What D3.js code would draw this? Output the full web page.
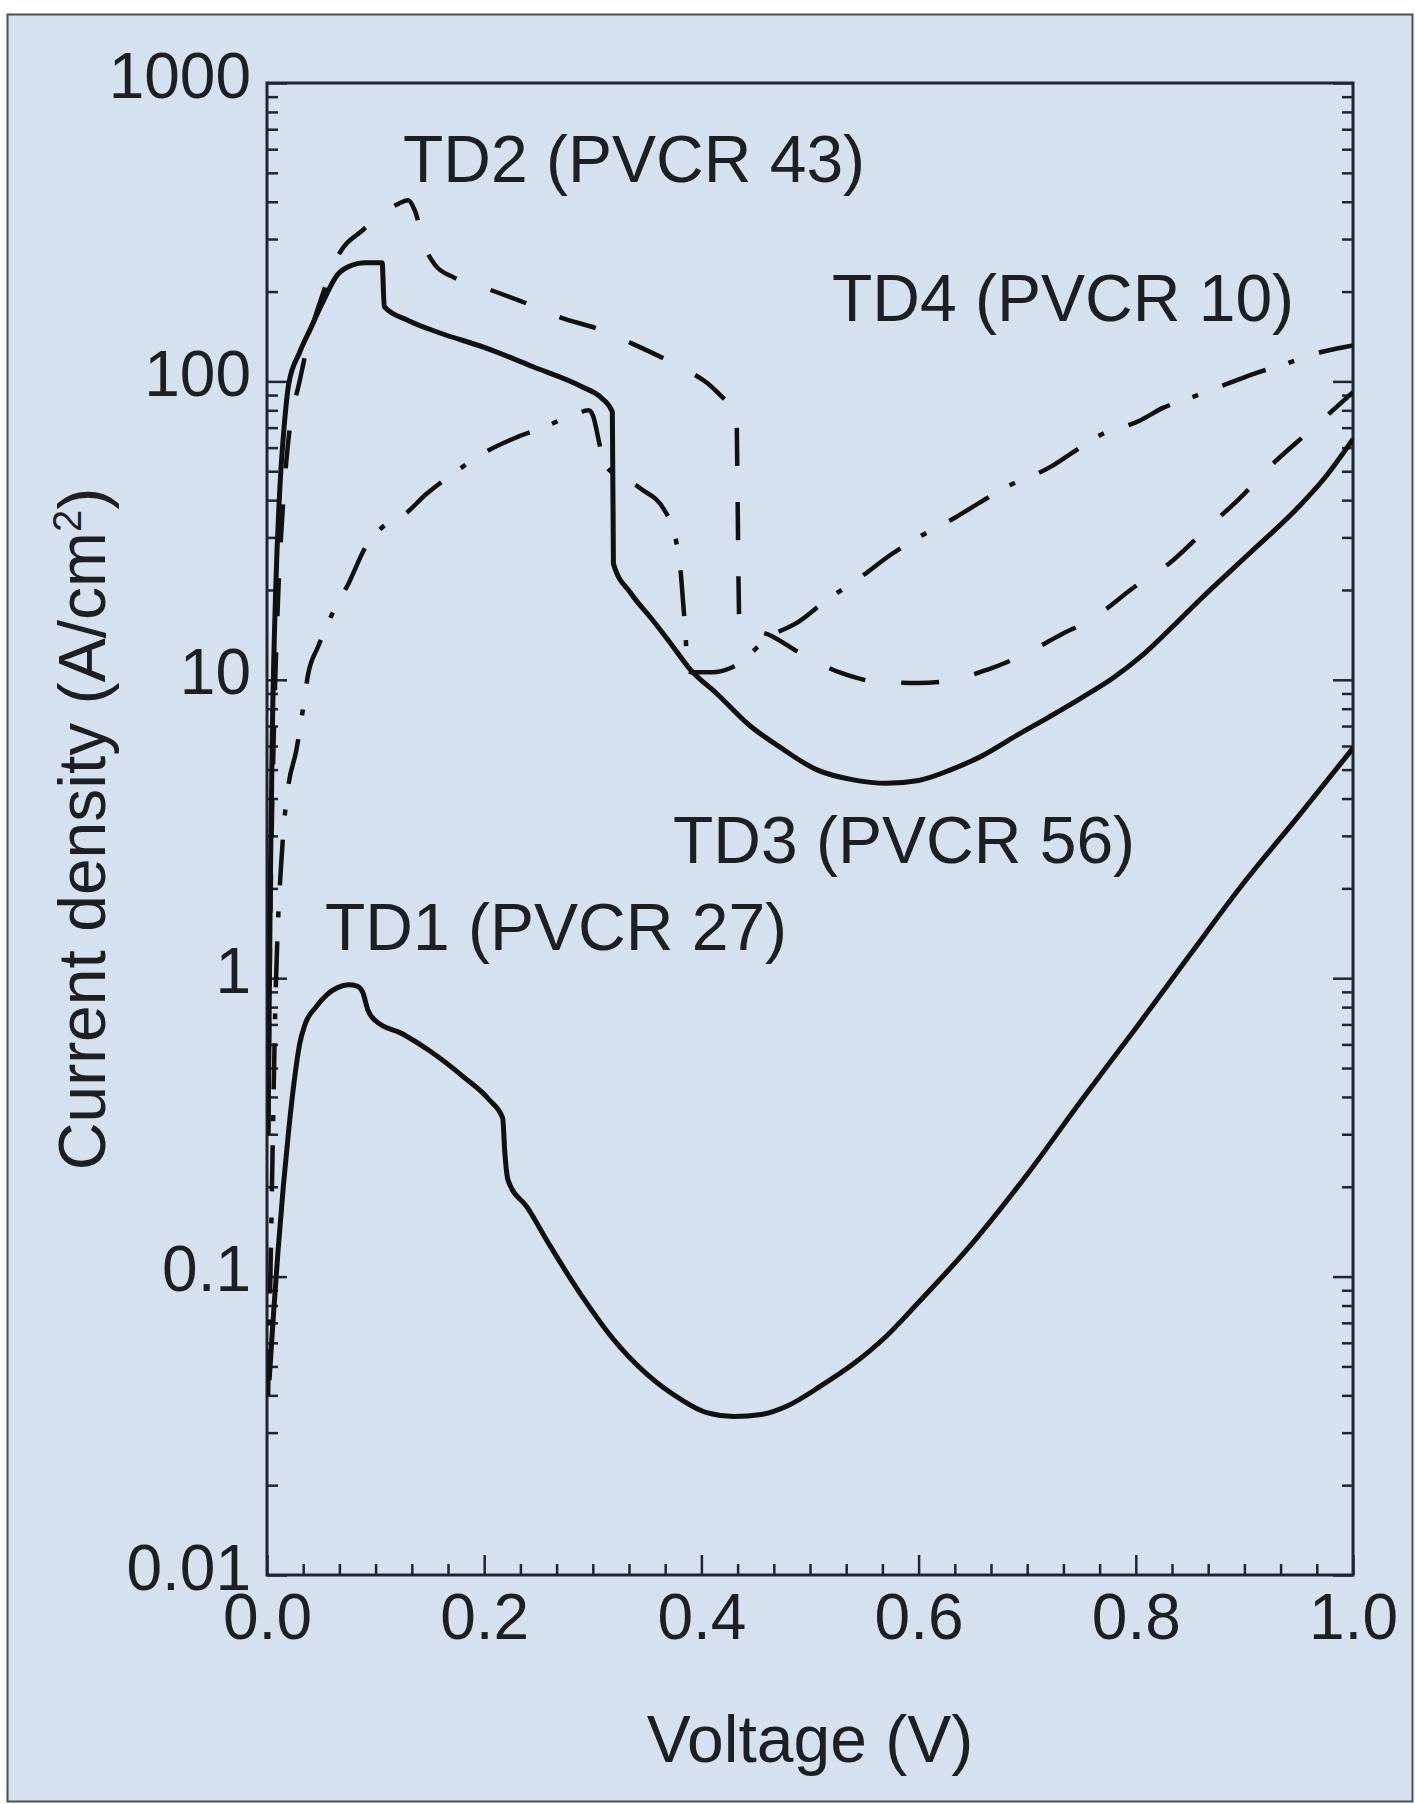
<!DOCTYPE html>
<html>
<head>
<meta charset="utf-8">
<script src="https://cdn.jsdelivr.net/npm/d3@7"></script>
<style>
  body { margin: 0; background: #fff; }
  text { font-family: "Liberation Sans", Arial, Helvetica, sans-serif; fill: #1d1f23; }
</style>
</head>
<body>
<svg id="chart" width="1415" height="1804"></svg>
<script>
// current density vs voltage for four tunnel diodes (log scale)
// values: [voltage V, current density A/cm2]

const td1 = [
  [0.002, 0.045], [0.006, 0.075], [0.01, 0.12], [0.015, 0.2], [0.02, 0.31], [0.025, 0.45],
  [0.03, 0.6], [0.035, 0.7], [0.045, 0.8], [0.055, 0.88], [0.065, 0.93], [0.075, 0.95],
  [0.083, 0.94], [0.088, 0.9], [0.093, 0.78], [0.1, 0.72], [0.125, 0.65], [0.15, 0.57],
  [0.18, 0.47], [0.205, 0.39], [0.217, 0.34], [0.219, 0.26], [0.222, 0.21], [0.24, 0.17],
  [0.26, 0.128], [0.29, 0.086], [0.32, 0.061], [0.35, 0.047], [0.38, 0.039], [0.405, 0.035],
  [0.43, 0.034], [0.455, 0.0345], [0.48, 0.037], [0.51, 0.043], [0.54, 0.051], [0.57, 0.063],
  [0.6, 0.082], [0.65, 0.13], [0.7, 0.22], [0.75, 0.39], [0.8, 0.68], [0.85, 1.2],
  [0.9, 2.1], [0.95, 3.5], [1.0, 5.9]
];

const td2 = [
  [0.001, 0.3], [0.003, 1.5], [0.006, 6], [0.01, 18], [0.015, 40], [0.02, 65], [0.03, 100],
  [0.04, 145], [0.05, 190], [0.065, 262], [0.088, 321], [0.105, 360], [0.12, 392], [0.13, 405],
  [0.136, 375], [0.145, 285], [0.155, 245], [0.171, 224], [0.2, 206], [0.24, 182], [0.27, 164],
  [0.307, 149], [0.334, 135], [0.374, 115], [0.405, 99], [0.428, 84], [0.432, 83], [0.435, 15.5],
  [0.465, 14.0], [0.494, 12.1], [0.53, 10.5], [0.562, 9.85], [0.6, 9.75], [0.626, 9.9],
  [0.663, 10.8], [0.696, 12.1], [0.73, 14.1], [0.762, 16.2], [0.799, 20.5], [0.831, 24.6],
  [0.866, 32.3], [0.894, 40], [0.928, 53.7], [0.959, 67.6], [1.0, 92]
];

const td3 = [
  [0.001, 0.3], [0.003, 2], [0.005, 7], [0.008, 20], [0.012, 45], [0.016, 72], [0.02, 98],
  [0.03, 125], [0.04, 150], [0.05, 180], [0.065, 228], [0.078, 245], [0.09, 250], [0.106, 250],
  [0.108, 178], [0.13, 160], [0.16, 145], [0.2, 130], [0.245, 112], [0.29, 96], [0.308, 88],
  [0.318, 79], [0.319, 24.5], [0.335, 19.5], [0.353, 16.2], [0.37, 13.5], [0.39, 10.8],
  [0.414, 9.0], [0.445, 7.0], [0.472, 5.96], [0.506, 5.0], [0.54, 4.62], [0.57, 4.5], [0.6, 4.6],
  [0.63, 5.0], [0.66, 5.6], [0.69, 6.5], [0.72, 7.5], [0.75, 8.7], [0.78, 10.2], [0.805, 12],
  [0.83, 14.6], [0.86, 18.7], [0.905, 26.6], [0.95, 38], [0.975, 48], [1.0, 64]
];

const td4 = [
  [0.001, 0.04], [0.004, 0.15], [0.006, 0.4], [0.008, 0.9], [0.01, 1.5], [0.013, 2.4],
  [0.016, 3.4], [0.02, 4.5], [0.027, 5.8], [0.032, 7.5], [0.038, 10.5], [0.047, 12.9],
  [0.063, 17.5], [0.075, 21], [0.09, 27.5], [0.111, 33.5], [0.125, 35.5], [0.147, 42],
  [0.171, 49], [0.205, 59], [0.23, 65], [0.254, 70], [0.285, 78], [0.296, 80], [0.3, 77],
  [0.306, 62], [0.31, 53], [0.343, 44], [0.366, 37], [0.376, 30], [0.381, 22.8], [0.383, 18.5],
  [0.385, 14.9], [0.387, 11.5], [0.39, 10.6], [0.41, 10.6], [0.428, 11], [0.465, 14.1],
  [0.489, 15.6], [0.512, 18.1], [0.549, 22.4], [0.574, 26.2], [0.599, 29.9], [0.635, 35.2],
  [0.657, 39.4], [0.681, 44.3], [0.721, 51.6], [0.741, 57.5], [0.767, 66], [0.804, 74],
  [0.825, 81.5], [0.85, 88], [0.887, 99], [0.912, 107], [0.933, 113], [0.973, 126], [1.0, 132]
];

const curveLabels = ["TD1 (PVCR 27)", "TD2 (PVCR 43)", "TD3 (PVCR 56)", "TD4 (PVCR 10)"];

const xTicks = [0, 0.2, 0.4, 0.6, 0.8, 1.0];
const xTickLabels = ["0.0", "0.2", "0.4", "0.6", "0.8", "1.0"];
const yTicks = [0.01, 0.1, 1, 10, 100, 1000];
const yTickLabels = ["0.01", "0.1", "1", "10", "100", "1000"];

const xTitle = "Voltage (V)";

//////////////////////////////////////////////////////////////////

let svg = d3.select("#chart");

const plot = {left: 267, right: 1353, top: 83, bottom: 1575};

let x = d3.scaleLinear().domain([0, 1]).range([plot.left, plot.right]);
let y = d3.scaleLog().domain([0.01, 1000]).range([plot.bottom, plot.top]);

// minor ticks: 2..9 inside every decade, 5 between voltage majors
let yMinor = [];
for (let p = -2; p < 3; p++) {
    for (let m = 2; m <= 9; m++) yMinor.push(m * Math.pow(10, p));
}
let xMinor = [];
for (let i = 0; i < 30; i++) {
    if (i % 6 !== 0) xMinor.push(i / 30);
}

addBackground(svg);
addAxes(svg);
addCurves(svg);
addLabels(svg);


function addBackground(svg) {
    svg.append("rect")
        .attr("x", 7.5).attr("y", 14.5)
        .attr("width", 1405).attr("height", 1787)
        .attr("fill", "#d5e1ef")
        .attr("stroke", "#4a4f57")
        .attr("stroke-width", 2);
}

function addAxes(svg) {
    const tickColor = "#1e2731";

    let left = svg.append("g")
        .attr("transform", "translate(" + plot.left + ",0)")
        .call(d3.axisLeft(y).tickValues(yTicks)
            .tickFormat(function (d, i) { return yTickLabels[i]; })
            .tickSizeInner(-20).tickSizeOuter(0).tickPadding(16));
    left.selectAll("text").style("font-size", "64px").attr("dy", "0.22em");

    svg.append("g")
        .attr("transform", "translate(" + plot.left + ",0)")
        .call(d3.axisLeft(y).tickValues(yMinor).tickFormat("").tickSizeInner(-11).tickSizeOuter(0));

    // right side mirrors the ticks, no labels
    svg.append("g")
        .attr("transform", "translate(" + plot.right + ",0)")
        .call(d3.axisRight(y).tickValues(yTicks).tickFormat("").tickSizeInner(-20).tickSizeOuter(0));
    svg.append("g")
        .attr("transform", "translate(" + plot.right + ",0)")
        .call(d3.axisRight(y).tickValues(yMinor).tickFormat("").tickSizeInner(-11).tickSizeOuter(0));

    let bottom = svg.append("g")
        .attr("transform", "translate(0," + plot.bottom + ")")
        .call(d3.axisBottom(x).tickValues(xTicks)
            .tickFormat(function (d, i) { return xTickLabels[i]; })
            .tickSizeInner(-20).tickSizeOuter(0).tickPadding(19));
    bottom.selectAll("text").style("font-size", "64px");

    svg.append("g")
        .attr("transform", "translate(0," + plot.bottom + ")")
        .call(d3.axisBottom(x).tickValues(xMinor).tickFormat("").tickSizeInner(-11).tickSizeOuter(0));

    svg.selectAll(".domain").remove();
    svg.selectAll(".tick line").attr("stroke", tickColor).attr("stroke-width", 2.5);
    svg.selectAll(".tick text").style("fill", "#1d1f23")
        .style("font-family", "'Liberation Sans', Arial, sans-serif");

    // plot frame
    svg.append("rect")
        .attr("x", plot.left).attr("y", plot.top)
        .attr("width", plot.right - plot.left).attr("height", plot.bottom - plot.top)
        .attr("fill", "none")
        .attr("stroke", tickColor)
        .attr("stroke-width", 3);
}

function addCurves(svg) {
    svg.append("clipPath").attr("id", "plot-clip")
        .append("rect")
        .attr("x", plot.left).attr("y", plot.top)
        .attr("width", plot.right - plot.left).attr("height", plot.bottom - plot.top);

    // monotone keeps the steep drops from overshooting
    let line = d3.line()
        .curve(d3.curveMonotoneX)
        .x(function (d) { return x(d[0]); })
        .y(function (d) { return y(d[1]); });

    const curves = [
        {data: td1, dash: null},
        {data: td3, dash: null},
        {data: td2, dash: "38,36"},
        {data: td4, dash: "46,24,6,26"}
    ];

    let g = svg.append("g").attr("clip-path", "url(#plot-clip)");
    g.selectAll("path")
        .data(curves)
        .enter().append("path")
        .attr("d", function (d) { return line(d.data); })
        .attr("fill", "none")
        .attr("stroke", "#111")
        .attr("stroke-width", function (d) { return d.dash ? 4.5 : 5; })
        .attr("stroke-linejoin", "round")
        .attr("stroke-dasharray", function (d) { return d.dash; });
}

function addLabels(svg) {
    // annotation spots next to each curve
    const spots = [[325, 950], [403, 182], [673, 863], [832, 321]];

    svg.append("g")
        .selectAll("text")
        .data(curveLabels)
        .enter().append("text")
        .attr("x", function (d, i) { return spots[i][0]; })
        .attr("y", function (d, i) { return spots[i][1]; })
        .style("font-size", "66px")
        .text(function (d) { return d; });

    svg.append("text")
        .attr("x", (plot.left + plot.right) / 2)
        .attr("y", 1762)
        .attr("text-anchor", "middle")
        .style("font-size", "66px")
        .text(xTitle);

    let yTitle = svg.append("text")
        .attr("transform", "translate(105," + (plot.top + plot.bottom) / 2 + ") rotate(-90)")
        .attr("text-anchor", "middle")
        .style("font-size", "66px");
    yTitle.append("tspan").text("Current density (A/cm");
    yTitle.append("tspan").attr("dy", "-24").style("font-size", "40px").text("2");
    yTitle.append("tspan").attr("dy", "24").text(")");
}
</script>
</body>
</html>
